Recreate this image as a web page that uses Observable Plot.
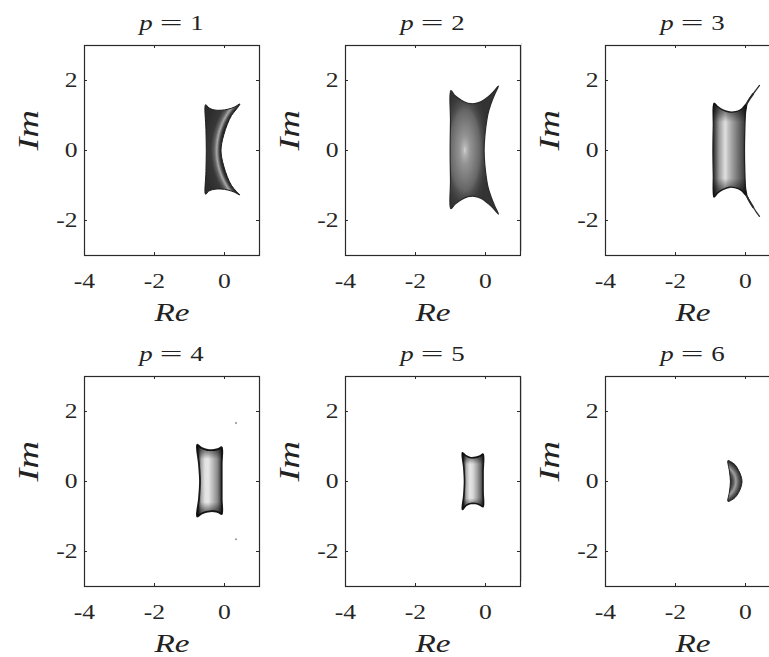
<!DOCTYPE html>
<html>
<head>
<meta charset="utf-8">
<script src="https://cdn.jsdelivr.net/npm/d3@7"></script>
<script src="https://cdn.jsdelivr.net/npm/@observablehq/plot@0.6"></script>
<style>
  html, body { margin: 0; padding: 0; background: #fff; }
  #fig { position: relative; width: 769px; height: 657px; overflow: hidden; font-family: "Liberation Serif", serif; }
  .panel { position: absolute; width: 262px; height: 331px; }
  .panel svg { position: absolute; left: 0; top: 0; overflow: visible; }
  .ttl { position: absolute; left: 84px; width: 175px; top: 10px; text-align: center; font-size: 22px; line-height: 26px; color: #222;
         transform: scaleX(1.22); transform-origin: 50% 50%; white-space: nowrap; }
  .ttl .eq { display: inline-block; margin: 0 0.42em; transform: scaleX(1.5); }
  .divider { position: absolute; width: 1px; background: #dedede; }
</style>
</head>
<body>
<div id="fig"></div>
<script>
// Order of the method shown in each panel
const orders = [1, 2, 3, 4, 5, 6];

// Axes of the complex plane
const reDomain = [-4, 1];
const imDomain = [-3, 3];
const reTicks = [-4, -2, 0];
const imTicks = [-2, 0, 2];

// Boundary of each stability region (real part, imaginary part), traced counter-clockwise
const p1Re = [-0.54, -0.45, -0.30, -0.10, 0.10, 0.28, 0.44, 0.34, 0.20, 0.08, -0.02, -0.08, -0.10, -0.08, -0.02, 0.08, 0.20, 0.34, 0.44, 0.28, 0.10, -0.10, -0.30, -0.45, -0.54, -0.53, -0.52, -0.53];
const p1Im = [1.31, 1.22, 1.16, 1.15, 1.18, 1.24, 1.33, 1.18, 1.00, 0.75, 0.45, 0.20, 0.00, -0.20, -0.45, -0.75, -1.00, -1.17, -1.27, -1.19, -1.13, -1.10, -1.11, -1.16, -1.25, -0.60, 0.00, 0.60];

const p2Re = [-0.99, -0.875, -0.68, -0.50, -0.31, -0.12, 0.07, 0.21, 0.37, 0.26, 0.15, 0.07, 0.02, -0.02, -0.04, -0.02, 0.02, 0.07, 0.15, 0.26, 0.37, 0.21, 0.07, -0.12, -0.31, -0.50, -0.68, -0.875, -0.99, -1.00, -1.01, -1.00];
const p2Im = [1.71, 1.57, 1.43, 1.35, 1.34, 1.40, 1.53, 1.66, 1.84, 1.60, 1.32, 1.05, 0.75, 0.40, 0.00, -0.40, -0.75, -1.04, -1.30, -1.58, -1.82, -1.64, -1.51, -1.37, -1.31, -1.32, -1.40, -1.54, -1.66, -0.85, 0.00, 0.85];

const p3Re = [-0.90, -0.80, -0.65, -0.45, -0.28, -0.12, 0.03, 0.00, -0.02, -0.03, -0.02, 0.00, 0.03, -0.12, -0.28, -0.45, -0.65, -0.80, -0.90, -0.92, -0.93, -0.92];
const p3Im = [1.35, 1.26, 1.16, 1.10, 1.11, 1.18, 1.33, 1.08, 0.60, 0.00, -0.60, -1.06, -1.29, -1.14, -1.07, -1.05, -1.12, -1.22, -1.33, -0.70, 0.00, 0.70];
// thin filaments leaving the p = 3 region
const p3UpperFilRe = [0.03, 0.12, 0.22, 0.31, 0.40];
const p3UpperFilIm = [1.33, 1.48, 1.62, 1.74, 1.86];
const p3LowerFilRe = [0.03, 0.12, 0.22, 0.31, 0.40];
const p3LowerFilIm = [-1.29, -1.46, -1.62, -1.76, -1.88];

const p4Re = [-0.78, -0.66, -0.48, -0.30, -0.17, -0.08, -0.08, -0.08, -0.08, -0.08, -0.17, -0.30, -0.48, -0.66, -0.78, -0.73, -0.70, -0.73];
const p4Im = [1.05, 0.96, 0.90, 0.90, 0.93, 0.98, 0.50, 0.00, -0.50, -0.93, -0.88, -0.85, -0.86, -0.92, -1.00, -0.50, 0.00, 0.50];
// isolated specks of the p = 4 region
const p4SpeckRe = [0.33, 0.33];
const p4SpeckIm = [1.67, -1.65];

const p5Re = [-0.66, -0.56, -0.42, -0.28, -0.16, -0.07, -0.07, -0.07, -0.07, -0.16, -0.28, -0.42, -0.56, -0.66, -0.62, -0.60, -0.62];
const p5Im = [0.82, 0.74, 0.68, 0.69, 0.73, 0.78, 0.30, -0.30, -0.72, -0.67, -0.63, -0.63, -0.69, -0.80, -0.40, 0.00, 0.40];

const p6Re = [-0.50, -0.40, -0.30, -0.20, -0.13, -0.10, -0.13, -0.20, -0.30, -0.40, -0.50, -0.46, -0.43, -0.46];
const p6Im = [0.60, 0.55, 0.48, 0.32, 0.16, 0.00, -0.16, -0.32, -0.46, -0.53, -0.57, -0.30, 0.00, 0.30];

const pts = (re, im) => re.map((r, i) => ({re: r, im: im[i]}));

const regions = {
  1: {boundary: pts(p1Re, p1Im)},
  2: {boundary: pts(p2Re, p2Im)},
  3: {boundary: pts(p3Re, p3Im), filaments: [pts(p3UpperFilRe, p3UpperFilIm), pts(p3LowerFilRe, p3LowerFilIm)]},
  4: {boundary: pts(p4Re, p4Im), specks: pts(p4SpeckRe, p4SpeckIm)},
  5: {boundary: pts(p5Re, p5Im)},
  6: {boundary: pts(p6Re, p6Im)}
};

// Grey-level shading of each surface (gradient styles)
const edgeFade = {kind: "linear", y2: 1, stops: [[0, "#000", 0.7], [0.1, "#000", 0.4], [0.2, "#000", 0], [0.8, "#000", 0], [0.9, "#000", 0.4], [1, "#000", 0.7]]};
const shading = {
  1: {fill: {kind: "radial", center: [1.735, 0], radius: 2.4, stops: [[0, "#2d2d2d"], [0.76, "#1c1c1c"], [0.785, "#444444"], [0.815, "#a8a8a8"], [0.845, "#626262"], [0.885, "#383838"], [1, "#2c2c2c"]]}, stroke: "#1e1e1e", width: 1},
  2: {fill: {kind: "radial", cx: 0.31, cy: 0.5, r: 0.5, stops: [[0, "#d4d4d4"], [0.07, "#b4b4b4"], [0.22, "#949494"], [0.45, "#7a7a7a"], [0.62, "#666666"], [0.72, "#4e4e4e"], [0.85, "#3c3c3c"], [1, "#333333"]]}, stroke: "#2a2a2a", width: 1.2},
  3: {fill: {kind: "linear", x2: 1, stops: [[0, "#242424"], [0.05, "#444444"], [0.18, "#9a9a9a"], [0.36, "#e0e0e0"], [0.5, "#b2b2b2"], [0.7, "#7c7c7c"], [0.87, "#4e4e4e"], [1, "#242424"]]}, edge: edgeFade, stroke: "#222", width: 1.3},
  4: {fill: {kind: "linear", x2: 1, stops: [[0, "#1c1c1c"], [0.07, "#3a3a3a"], [0.17, "#a8a8a8"], [0.32, "#e2e2e2"], [0.45, "#e6e6e6"], [0.62, "#bcbcbc"], [0.8, "#8c8c8c"], [0.9, "#5a5a5a"], [1, "#1c1c1c"]]}, edge: edgeFade, stroke: "#1a1a1a", width: 1.8},
  5: {fill: {kind: "linear", x2: 1, stops: [[0, "#1c1c1c"], [0.08, "#3a3a3a"], [0.2, "#b0b0b0"], [0.36, "#e6e6e6"], [0.5, "#d8d8d8"], [0.7, "#a0a0a0"], [0.86, "#6a6a6a"], [1, "#1c1c1c"]]}, edge: edgeFade, stroke: "#1a1a1a", width: 1.6},
  6: {fill: {kind: "radial", center: [-0.75, 0], radius: 0.66, stops: [[0, "#2a2a2a"], [0.5, "#2e2e2e"], [0.6, "#575757"], [0.72, "#9e9e9e"], [0.85, "#575757"], [0.96, "#2a2a2a"], [1, "#222222"]]}, stroke: "#1e1e1e", width: 1}
};

const panelLeft = [0, 261, 521];
const panelTop = [0, 331];
const W = 262, H = 331, ML = 84, MR = 3, MT = 45, MB = 76;
const frameW = W - ML - MR, frameH = H - MT - MB;
const tickLen = 3;
const textWiden = 1.28; // the typeface is set wider than the installed serif

function addGradient(defs, id, spec, sx, sy) {
  const g = defs.append(spec.kind === "radial" ? "radialGradient" : "linearGradient").attr("id", id);
  if (spec.center) {
    g.attr("gradientUnits", "userSpaceOnUse")
      .attr("cx", sx.apply(spec.center[0]))
      .attr("cy", sy.apply(spec.center[1]))
      .attr("r", Math.abs(sx.apply(spec.radius) - sx.apply(0)));
  } else if (spec.kind === "radial") {
    g.attr("cx", spec.cx).attr("cy", spec.cy).attr("r", spec.r);
  } else {
    g.attr("x1", spec.x1 ?? 0).attr("y1", spec.y1 ?? 0).attr("x2", spec.x2 ?? 0).attr("y2", spec.y2 ?? 0);
  }
  for (const [o, c, a] of spec.stops) {
    g.append("stop").attr("offset", o).attr("stop-color", c).attr("stop-opacity", a ?? 1);
  }
}

const fig = document.getElementById("fig");

// faint seam left of the third column
for (const [top, h] of [[43, 208], [377, 204]]) {
  const d = document.createElement("div");
  d.className = "divider";
  d.style.left = "521px"; d.style.top = top + "px"; d.style.height = h + "px";
  fig.appendChild(d);
}

orders.forEach((p, k) => {
  const col = k % 3, row = Math.floor(k / 3);
  const reg = regions[p], sh = shading[p];

  const marks = [
    Plot.line(reg.boundary, {x: "re", y: "im", curve: "catmull-rom-closed", fill: `url(#shade-${p})`, stroke: sh.stroke, strokeWidth: sh.width})
  ];
  if (sh.edge) {
    marks.push(Plot.line(reg.boundary, {x: "re", y: "im", curve: "catmull-rom-closed", fill: `url(#edge-${p})`, stroke: "none"}));
  }
  if (reg.filaments) {
    for (const f of reg.filaments) {
      marks.push(Plot.line(f, {x: "re", y: "im", curve: "catmull-rom", stroke: "#2a2a2a", strokeWidth: 1.3}));
      marks.push(Plot.line(f.slice(0, 3), {x: "re", y: "im", curve: "catmull-rom", stroke: "#2a2a2a", strokeWidth: 2}));
    }
  }
  if (reg.specks) {
    marks.push(Plot.dot(reg.specks, {x: "re", y: "im", r: 1.1, fill: "#9a9a9a", stroke: "none"}));
  }
  marks.push(
    Plot.frame({stroke: "#2a2a2a", strokeWidth: 1.2}),
    // inward ticks on all four sides
    Plot.ruleX(reTicks, {insetBottom: frameH - tickLen, stroke: "#2a2a2a"}),
    Plot.ruleX(reTicks, {insetTop: frameH - tickLen, stroke: "#2a2a2a"}),
    Plot.ruleY(imTicks, {insetRight: frameW - tickLen, stroke: "#2a2a2a"}),
    Plot.ruleY(imTicks, {insetLeft: frameW - tickLen, stroke: "#2a2a2a"}),
    Plot.text(["Re"], {text: d => d, frameAnchor: "bottom", dy: 65, lineAnchor: "bottom", fontStyle: "italic", fontSize: 26, fill: "#222"}),
    Plot.text(["Im"], {text: d => d, frameAnchor: "left", dx: -47, rotate: -90, lineAnchor: "bottom", fontStyle: "italic", fontSize: 30, fill: "#222"})
  );

  const plot = Plot.plot({
    width: W, height: H,
    marginLeft: ML, marginRight: MR, marginTop: MT, marginBottom: MB,
    x: {domain: reDomain, ticks: reTicks, tickSize: 0, tickPadding: 18, tickFormat: d => String(d), label: null},
    y: {domain: imDomain, ticks: imTicks, tickSize: 0, tickPadding: 7, tickFormat: d => String(d), label: null},
    style: {fontFamily: "Liberation Serif, serif", fontSize: "20px", color: "#262626", background: "transparent", overflow: "visible"},
    marks
  });

  const svg = d3.select(plot);
  // widen every label along its own reading direction
  svg.selectAll("text").attr("transform", function () {
    return `${this.getAttribute("transform") || ""} scale(${textWiden},1)`.trim();
  });
  const defs = svg.insert("defs", ":first-child");
  const sx = plot.scale("x"), sy = plot.scale("y");
  addGradient(defs, `shade-${p}`, sh.fill, sx, sy);
  if (sh.edge) addGradient(defs, `edge-${p}`, sh.edge, sx, sy);

  const panel = document.createElement("div");
  panel.className = "panel";
  panel.style.left = panelLeft[col] + "px";
  panel.style.top = panelTop[row] + "px";
  panel.appendChild(plot);

  const ttl = document.createElement("div");
  ttl.className = "ttl";
  ttl.innerHTML = `<i>p</i><span class="eq">=</span>${p}`;
  panel.appendChild(ttl);

  fig.appendChild(panel);
});
</script>
</body>
</html>
